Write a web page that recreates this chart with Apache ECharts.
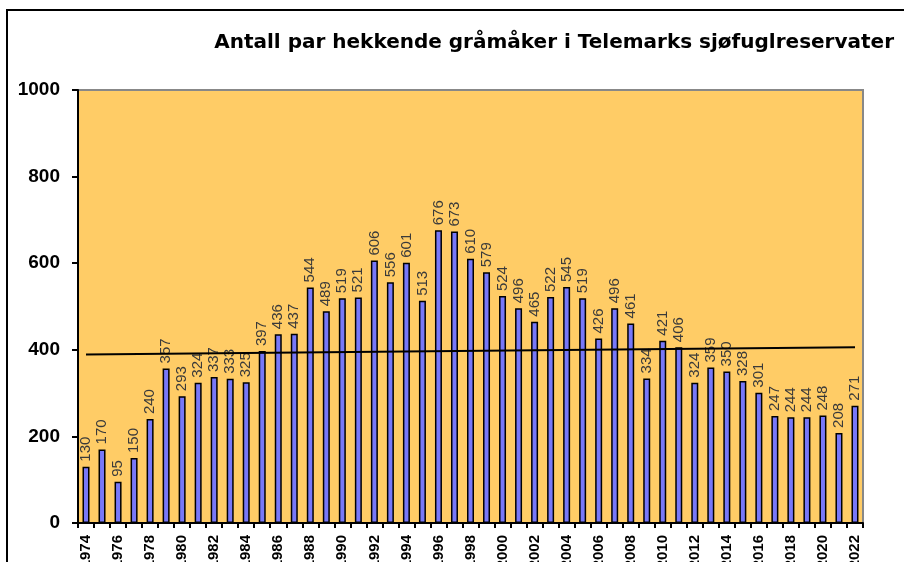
<!DOCTYPE html>
<html>
<head>
<meta charset="utf-8">
<script src="https://cdn.jsdelivr.net/npm/echarts@6/dist/echarts.min.js"></script>
<style>
  html, body { margin: 0; padding: 0; background: #fff; }
  #chart { width: 904px; height: 562px; }
</style>
</head>
<body>
<div id="chart"></div>
<script>
  // years on the x axis
  var years = []
  for (var y = 1974; y <= 2022; y++) years.push(String(y))

  // breeding pairs
  var pairs = [
    130, 170, 95, 150, 240, 357, 293, 324, 337, 333,
    325, 397, 436, 437, 544, 489, 519, 521, 606, 556,
    601, 513, 676, 673, 610, 579, 524, 496, 465, 522,
    545, 519, 426, 496, 461, 334, 421, 406, 324, 359,
    350, 328, 301, 247, 244, 244, 248, 208, 271
  ]

  // linear trend line, endpoints
  var trend = [['1974', 389], ['2022', 406]]

  var yTicks = [0, 200, 400, 600, 800, 1000]

  var narrow = '"Liberation Sans Narrow", "Liberation Sans", Arial, sans-serif'

  var chart = echarts.init(document.getElementById('chart'))
  chart.setOption({
    animation: false,
    backgroundColor: '#fff',
    textStyle: { fontFamily: 'Liberation Sans, Arial, sans-serif' },
    title: {
      text: 'Antall par hekkende gråmåker i Telemarks sjøfuglreservater',
      right: 5,
      top: 28,
      textStyle: {
        fontSize: 20,
        fontWeight: 'bold',
        fontFamily: '"DejaVu Sans", sans-serif',
        color: '#000'
      }
    },
    graphic: [
      {
        type: 'rect',
        shape: { x: 7, y: 10, width: 1000, height: 1000 },
        style: { fill: null, stroke: '#000', lineWidth: 2 },
        silent: true
      }
    ],
    grid: {
      left: 78,
      right: 41,
      top: 90,
      bottom: 39,
      outerBoundsMode: 'none',
      containLabel: false,
      show: true,
      backgroundColor: '#FFCC66',
      borderColor: '#888',
      borderWidth: 2
    },
    xAxis: {
      type: 'category',
      data: years,
      axisLine: { lineStyle: { color: '#000', width: 2 } },
      axisTick: { show: true, interval: 0, length: 5, lineStyle: { color: '#000', width: 2 } },
      axisLabel: {
        interval: 1,
        rotate: 90,
        fontSize: 15,
        fontWeight: 'bold',
        fontFamily: narrow,
        color: '#000',
        margin: 12
      }
    },
    yAxis: {
      type: 'value',
      min: yTicks[0],
      max: yTicks[yTicks.length - 1],
      interval: 200,
      splitLine: { show: false },
      axisLine: { show: true, lineStyle: { color: '#000', width: 2 } },
      axisTick: { show: true, length: 6, lineStyle: { color: '#000', width: 2 } },
      axisLabel: {
        fontSize: 19,
        fontWeight: 'bold',
        color: '#000',
        margin: 18,
        formatter: function (v) { return String(v) }
      }
    },
    series: [
      {
        name: 'Antall par',
        type: 'bar',
        data: pairs,
        barWidth: 7,
        itemStyle: { color: '#7878F8', borderColor: '#000', borderWidth: 1.5 },
        label: {
          show: true,
          position: 'top',
          rotate: 90,
          align: 'left',
          verticalAlign: 'middle',
          distance: 5,
          fontSize: 15,
          fontFamily: narrow,
          color: '#3a3a3a'
        },
        z: 2
      },
      {
        name: 'Trend',
        type: 'line',
        data: trend,
        symbol: 'none',
        lineStyle: { color: '#000', width: 2 },
        z: 3
      }
    ]
  })
</script>
</body>
</html>
